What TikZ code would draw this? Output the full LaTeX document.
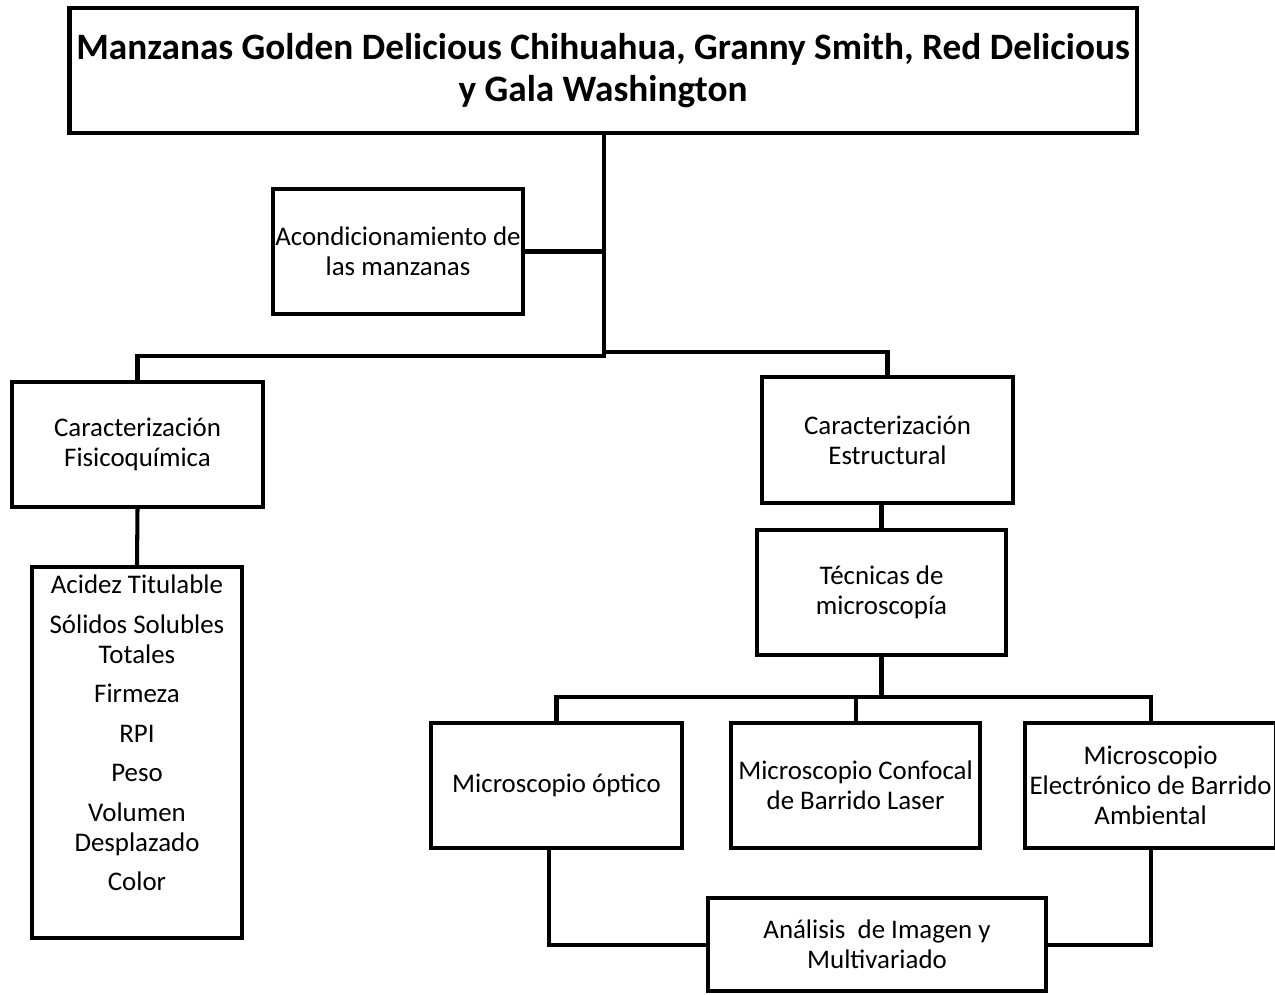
\documentclass[tikz,border=0pt]{standalone}
\usepackage{fontspec}
\setmainfont{Carlito}
\usetikzlibrary{positioning,calc}

\begin{document}
\begin{tikzpicture}[font=\fontsize{15.3}{17}\selectfont,
      box/.style={draw, line width=2.3pt, inner sep=0pt, align=center,
                  minimum width=5.0cm, minimum height=2.5cm},
      lnk/.style={line width=2.3pt}
    ]
    \useasboundingbox (0,0) rectangle (25.5,-19.88);

    \node[box, minimum width=21.34cm, font=\fontsize{21.2}{24}\selectfont\bfseries]
          (manz) at (12.06,-1.41)
          {Manzanas Golden Delicious Chihuahua, Granny Smith, Red Delicious\\
           y Gala Washington};
    \node[box] (acond) at (7.96,-5.03) {Acondicionamiento de\\las manzanas};

    % rama izquierda
    \node[box, minimum width=5.02cm] (fisico) at (2.75,-8.89)
          {Caracterizaci\'on\\Fisicoqu\'imica};
    \node[box, minimum width=4.2cm, minimum height=7.42cm] (lista) at (2.74,-15.05)
          {\parbox[c][7.1cm][t]{4.1cm}{\centering
           Acidez Titulable\\[5.5pt]
           S\'olidos Solubles\\Totales\\[5.5pt]
           Firmeza\\[5.5pt]
           RPI\\[5.5pt]
           Peso\\[5.5pt]
           Volumen\\Desplazado\\[5.5pt]
           Color}};

    % rama derecha
    \node[box, minimum width=5.02cm, minimum height=2.52cm] (estruc) at (17.75,-8.8)
          {Caracterizaci\'on\\Estructural};
    \node[box, minimum width=4.98cm] (tecnicas) at (17.63,-11.85)
          {T\'ecnicas de\\microscop\'ia};

    \node[box, minimum width=5.02cm] (optico) at (11.13,-15.71)
          {Microscopio \'optico};
    \node[box, minimum width=4.98cm, right=0.9cm of optico] (confocal)
          {Microscopio Confocal\\de Barrido Laser};
    \node[box, minimum width=5.02cm, right=0.82cm of confocal] (esem)
          {Microscopio\\Electr\'onico de Barrido\\Ambiental};
    \node[box, minimum width=6.76cm, minimum height=1.86cm] (analisis) at (17.54,-18.89)
          {An\'alisis \ de Imagen y\\Multivariado};

    \coordinate (jl) at (12.08,-7.12);
    \coordinate (jr) at (12.08,-7.04);
    \coordinate (jm) at (17.63,-13.94);

    \draw[lnk] (manz.south -| jl) -- (jl) -| (fisico.north);
    \draw[lnk] (jr) -| (estruc.north);
    \draw[lnk] (acond.east) -- (acond.east -| jl);
    \draw[lnk] (fisico.south) -- (lista.north);
    \draw[lnk] (tecnicas.north) -- (tecnicas.north |- estruc.south);
    \draw[lnk] (tecnicas.south) -- (jm);
    \draw[lnk] (optico.north) -- (optico.north |- jm) -- (esem.north |- jm) -- (esem.north);
    \draw[lnk] (confocal.north) -- (confocal.north |- jm);
    \draw[lnk] ([xshift=-0.15cm]optico.south) |- (analisis.west);
    \draw[lnk] (esem.south) |- (analisis.east);
  \end{tikzpicture}
\end{document}
